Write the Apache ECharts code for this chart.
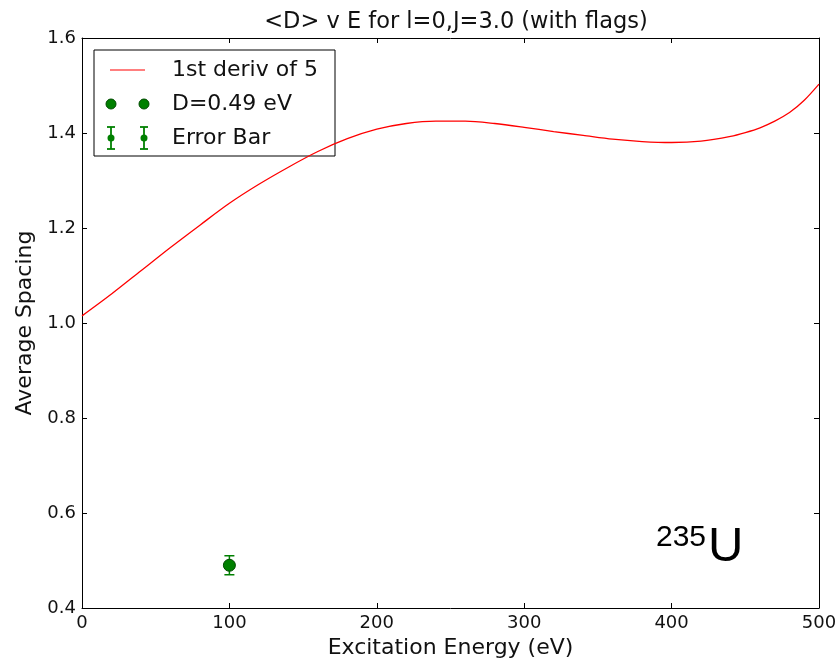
<!DOCTYPE html>
<html>
<head>
<meta charset="utf-8">
<title>Average spacing vs excitation energy</title>
<script src="https://cdn.jsdelivr.net/npm/echarts@6/dist/echarts.min.js"></script>
<style>
  html, body { margin: 0; padding: 0; background: #ffffff; }
  #chart { width: 838px; height: 660px; }
</style>
</head>
<body>
<div id="chart"></div>
<script>
// Fitted curve: first derivative of the 5th-order fit
const energy = [0, 20, 40, 60, 80, 100, 120, 140, 160, 180, 200, 220, 240,
                260, 280, 300, 320, 340, 360, 380, 400, 420, 440, 450, 460, 470, 480, 490, 500];
const spacing = [1.015, 1.061, 1.110, 1.159, 1.206, 1.252, 1.292, 1.328, 1.361, 1.388, 1.408, 1.420, 1.425,
                 1.425, 1.420, 1.412, 1.403, 1.395, 1.387, 1.382, 1.380, 1.383, 1.393, 1.401, 1.411, 1.425,
                 1.443, 1.469, 1.503];

// Measured spacing with its uncertainty
const pointEnergy = [100];
const pointSpacing = [0.49];
const pointError = [0.02];

// Axis ranges
const xTicks = { min: 0, max: 500, interval: 100 };
const yTicks = { min: 0.4, max: 1.6, interval: 0.2 };

// Labels
const titleText = '<D> v E for l=0,J=3.0 (with flags)';
const xName = 'Excitation Energy (eV)';
const yName = 'Average Spacing';
const legendNames = ['1st deriv of 5', 'D=0.49 eV', 'Error Bar'];

const FONT = 'DejaVu Sans';
const GREEN = '#008000';
const GREEN_EDGE = '#004b00';

const chart = echarts.init(document.getElementById('chart'), null, { renderer: 'canvas', width: 838, height: 660 });

const curveData = energy.map((e, i) => [e, spacing[i]]);
const pointData = pointEnergy.map((e, i) => [e, pointSpacing[i], pointError[i]]);

const axisCommon = {
  axisLine: { show: true, onZero: false, lineStyle: { color: '#000', width: 1 } },
  axisTick: { show: true, inside: true, length: 5, lineStyle: { color: '#000', width: 1 } },
  splitLine: { show: false }
};

// Legend drawn as a framed box with line / marker / error-bar samples
const legendX = 94, legendY = 50, legendW = 241, legendH = 106;
const rowY = [70, 104, 138];
const sampleA = 111, sampleB = 144, textX = 172;

function errGlyph(cx, cy) {
  return [
    { type: 'line', shape: { x1: cx, y1: cy - 11, x2: cx, y2: cy + 11 }, style: { stroke: GREEN, lineWidth: 1.8 } },
    { type: 'line', shape: { x1: cx - 4, y1: cy - 11, x2: cx + 4, y2: cy - 11 }, style: { stroke: GREEN, lineWidth: 1.8 } },
    { type: 'line', shape: { x1: cx - 4, y1: cy + 11, x2: cx + 4, y2: cy + 11 }, style: { stroke: GREEN, lineWidth: 1.8 } },
    { type: 'circle', shape: { cx: cx, cy: cy, r: 3.5 }, style: { fill: GREEN } }
  ];
}

const legendGraphic = {
  type: 'group',
  z: 100,
  children: [
    { type: 'rect', shape: { x: legendX, y: legendY, width: legendW, height: legendH },
      style: { fill: '#fff', stroke: '#000', lineWidth: 1 } },
    { type: 'line', shape: { x1: sampleA - 1, y1: rowY[0], x2: sampleB + 1, y2: rowY[0] },
      style: { stroke: '#ff0000', lineWidth: 1.2 } },
    { type: 'circle', shape: { cx: sampleA, cy: rowY[1], r: 5 }, style: { fill: GREEN, stroke: GREEN_EDGE, lineWidth: 1 } },
    { type: 'circle', shape: { cx: sampleB, cy: rowY[1], r: 5 }, style: { fill: GREEN, stroke: GREEN_EDGE, lineWidth: 1 } },
    ...errGlyph(sampleA, rowY[2]),
    ...errGlyph(sampleB, rowY[2]),
    ...legendNames.map((name, i) => ({
      type: 'text',
      style: { x: textX, y: rowY[i], text: name, fill: '#111', font: '22px "' + FONT + '"',
               textAlign: 'left', textVerticalAlign: 'middle' }
    }))
  ]
};

// Isotope label
const isotopeGraphic = {
  type: 'text',
  z: 50,
  style: {
    x: 656, y: 572,
    text: '{sup|235}{el|U}',
    textVerticalAlign: 'bottom',
    rich: {
      sup: { fontFamily: 'Liberation Sans', fontSize: 30, fill: '#000', verticalAlign: 'top', padding: [0, 2, 12, 0] },
      el: { fontFamily: 'Liberation Sans', fontSize: 49, fill: '#000' }
    }
  }
};

const option = {
  backgroundColor: '#ffffff',
  animation: false,
  title: {
    text: titleText,
    left: 451,
    top: 6,
    textAlign: 'center',
    textStyle: { fontFamily: FONT, fontSize: 22.5, fontWeight: 'normal', color: '#111' }
  },
  grid: { left: 82, right: 19, top: 38, bottom: 52, containLabel: false, outerBoundsMode: 'none' },
  xAxis: [
    Object.assign({
      type: 'value', position: 'bottom', min: xTicks.min, max: xTicks.max, interval: xTicks.interval,
      name: xName, nameLocation: 'middle', nameGap: 27,
      nameTextStyle: { fontFamily: FONT, fontSize: 22, color: '#111' },
      axisLabel: { fontFamily: FONT, fontSize: 18, color: '#111', margin: 6 }
    }, axisCommon),
    Object.assign({
      type: 'value', position: 'top', min: xTicks.min, max: xTicks.max, interval: xTicks.interval,
      axisLabel: { show: false }
    }, axisCommon)
  ],
  yAxis: [
    Object.assign({
      type: 'value', position: 'left', min: yTicks.min, max: yTicks.max, interval: yTicks.interval,
      name: yName, nameLocation: 'middle', nameGap: 45, nameRotate: 90,
      nameTextStyle: { fontFamily: FONT, fontSize: 22, color: '#111' },
      axisLabel: { fontFamily: FONT, fontSize: 18, color: '#111', margin: 6,
                   formatter: v => v.toFixed(1) }
    }, axisCommon),
    Object.assign({
      type: 'value', position: 'right', min: yTicks.min, max: yTicks.max, interval: yTicks.interval,
      axisLabel: { show: false }
    }, axisCommon)
  ],
  series: [
    {
      name: legendNames[0],
      type: 'line',
      data: curveData,
      smooth: 0.3,
      showSymbol: false,
      symbol: 'none',
      lineStyle: { color: '#ff0000', width: 1.3 },
      z: 3
    },
    {
      name: legendNames[2],
      type: 'custom',
      data: pointData,
      z: 4,
      renderItem: function (params, api) {
        const x = api.value(0), y = api.value(1), e = api.value(2);
        const top = api.coord([x, y + e]);
        const bot = api.coord([x, y - e]);
        const half = 5;
        const st = { stroke: GREEN, lineWidth: 1.5 };
        return {
          type: 'group',
          children: [
            { type: 'line', shape: { x1: top[0], y1: top[1], x2: bot[0], y2: bot[1] }, style: st },
            { type: 'line', shape: { x1: top[0] - half, y1: top[1], x2: top[0] + half, y2: top[1] }, style: st },
            { type: 'line', shape: { x1: bot[0] - half, y1: bot[1], x2: bot[0] + half, y2: bot[1] }, style: st }
          ]
        };
      }
    },
    {
      name: legendNames[1],
      type: 'scatter',
      data: pointData.map(d => [d[0], d[1]]),
      symbol: 'circle',
      symbolSize: 12,
      itemStyle: { color: GREEN, borderColor: GREEN_EDGE, borderWidth: 1, opacity: 1 },
      z: 5
    }
  ],
  graphic: [legendGraphic, isotopeGraphic]
};

chart.setOption(option);
</script>
</body>
</html>
